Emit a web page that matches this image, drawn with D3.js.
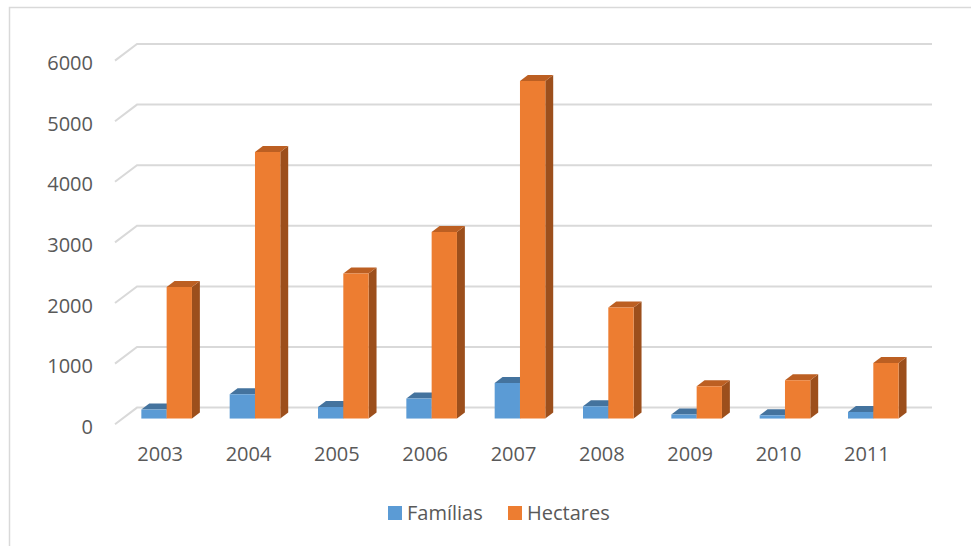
<!DOCTYPE html>
<html>
<head>
<meta charset="utf-8">
<script src="https://cdn.jsdelivr.net/npm/d3@7"></script>
<style>
  html, body { margin: 0; padding: 0; background: #fff; }
  svg { display: block; }
  text { font-family: "Open Sans", "Liberation Sans", sans-serif; fill: #595959; }
</style>
</head>
<body>
<svg id="chart" width="971" height="546"></svg>
<script>
const years = ["2003", "2004", "2005", "2006", "2007", "2008", "2009", "2010", "2011"];
const familias = [148, 401, 191, 330, 587, 203, 66, 54, 109];
const hectares = [2172, 4399, 2393, 3079, 5571, 1832, 533, 632, 918];
const seriesNames = ["Famílias", "Hectares"];
const yTicks = [0, 1000, 2000, 3000, 4000, 5000, 6000];

const seriesValues = [familias, hectares];
const colors = {
  "Famílias": { front: "#5B9BD5", top: "#44739E", side: "#3F6A91" },
  "Hectares": { front: "#ED7D31", top: "#BC5F22", side: "#9C4F1C" }
};

const svg = d3.select("#chart");

// oblique 3D depth vector (full wall depth)
const DX = 22, DY = -16.6;
const t0 = 0.34, t1 = 0.70; // bar depth span
const off = (p, t) => [p[0] + DX * t, p[1] + DY * t];

const y = d3.scaleLinear().domain([0, 6000]).range([424.2, 60.6]);
const x0 = d3.scaleBand().domain(years).range([115, 910]).paddingInner(0.427).paddingOuter(0.2135);
const x1 = d3.scaleBand().domain(seriesNames).range([0, x0.bandwidth()]);
const xCat = d3.scaleBand().domain(years).range([115, 910]);

// outer border
svg.append("rect").attr("x", 9.5).attr("y", 7.5).attr("width", 980).attr("height", 560)
  .attr("fill", "none").attr("stroke", "#d9d9d9").attr("stroke-width", 1.5);

// gridlines: left wall diagonal + back wall horizontal
const grid = svg.append("g").attr("stroke", "#d9d9d9").attr("stroke-width", 2).attr("fill", "none");
yTicks.forEach(v => {
  const f = [115, y(v)];
  const b = off(f, 1);
  const bEnd = off([910, y(v)], 1);
  grid.append("path").attr("d", d3.line()([f, b, bEnd]));
});

// y-axis labels
svg.append("g").selectAll("text").data(yTicks).join("text")
  .attr("x", 93).attr("y", d => y(d) + 2)
  .attr("text-anchor", "end").attr("dominant-baseline", "central")
  .style("font-size", "20px").text(d => d);

// bars
const bars = svg.append("g");
years.forEach((yr, i) => {
  seriesNames.forEach((s, j) => {
    const v = seriesValues[j][i];
    const xl = x0(yr) + x1(s), xr = xl + x1.bandwidth();
    const yt = y(v), yb = y(0);
    const c = colors[s];
    const FLT = off([xl, yt], t0), FRT = off([xr, yt], t0), FRB = off([xr, yb], t0), FLB = off([xl, yb], t0);
    const BLT = off([xl, yt], t1), BRT = off([xr, yt], t1), BRB = off([xr, yb], t1);
    bars.append("path").attr("d", d3.line()([FRT, BRT, BRB, FRB]) + "Z").attr("fill", c.side);
    bars.append("path").attr("d", d3.line()([FLT, FRT, BRT, BLT]) + "Z").attr("fill", c.top);
    bars.append("path").attr("d", d3.line()([FLT, FRT, FRB, FLB]) + "Z").attr("fill", c.front);
  });
});

// x-axis labels
svg.append("g").selectAll("text").data(years).join("text")
  .attr("x", d => xCat(d) + xCat.bandwidth() / 2 + 1).attr("y", 461)
  .attr("text-anchor", "middle").style("font-size", "20px").text(d => d);

// legend
const legendX = [388, 508];
const lg = svg.append("g");
seriesNames.forEach((s, j) => {
  lg.append("rect").attr("x", legendX[j]).attr("y", 506).attr("width", 14).attr("height", 14)
    .attr("fill", colors[s].front);
  lg.append("text").attr("x", legendX[j] + 19).attr("y", 520)
    .style("font-size", "20px").text(s);
});
</script>
</body>
</html>
